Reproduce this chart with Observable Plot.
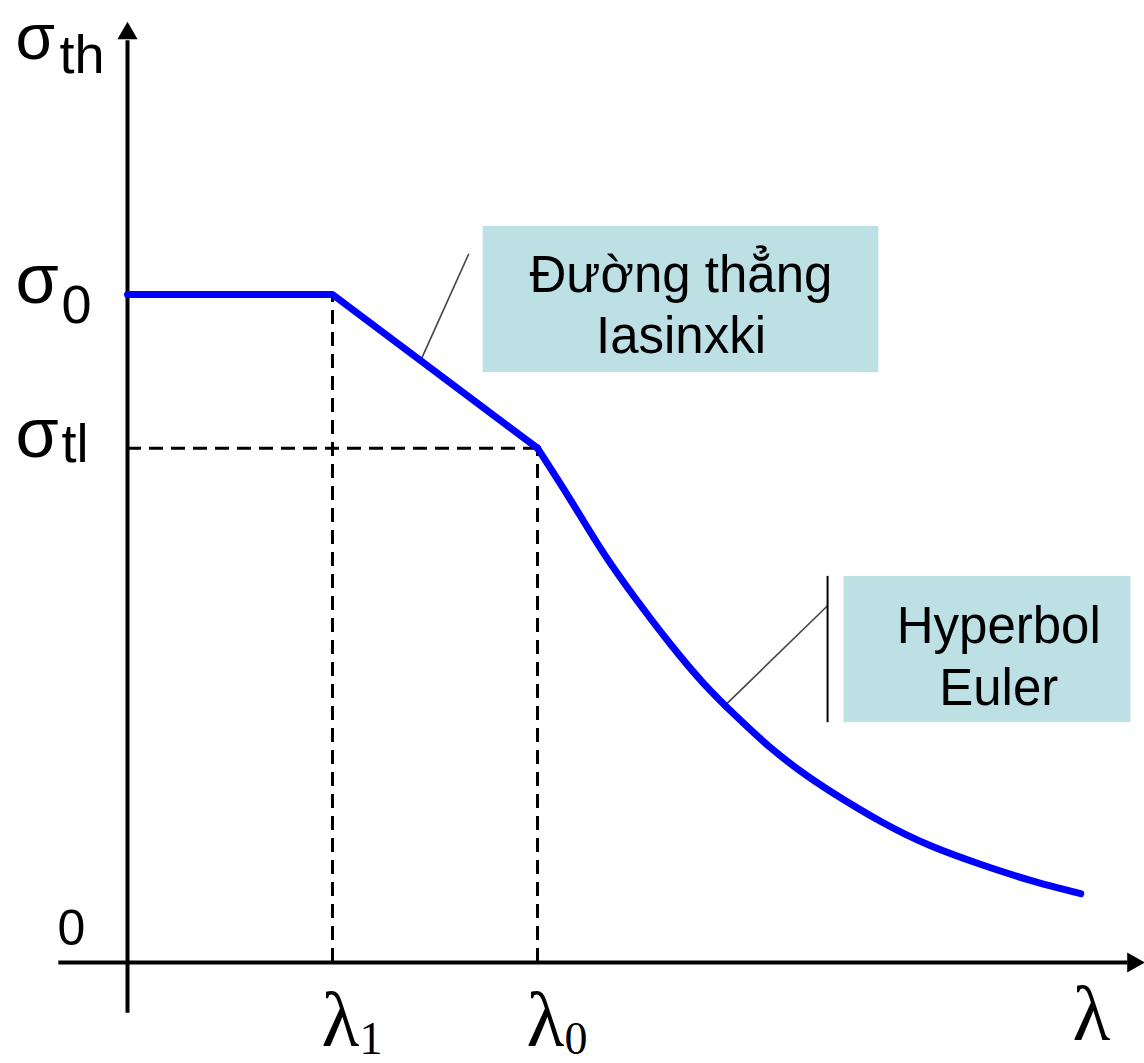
<!DOCTYPE html>
<html>
<head>
<meta charset="utf-8">
<script src="https://cdn.jsdelivr.net/npm/d3@7"></script>
<script src="https://cdn.jsdelivr.net/npm/@observablehq/plot@0.6"></script>
<style>
  html, body { margin: 0; padding: 0; background: #fff; }
  #chart svg { display: block; }
</style>
</head>
<body>
<div id="chart"></div>
<script>
// ---- Data ----
// Blue curve: plateau sigma0 up to lambda1, Iasinxki straight line to lambda0, Euler hyperbola after.
const lambdaStraight = [0, 20, 40];
const sigmaStraight  = [100, 100, 77];
const lambdaEuler = [40.0, 43.2, 46.4, 49.8, 53.0, 56.2, 59.5, 62.7, 65.7, 68.6, 73.5, 78.3, 83.2, 88.1, 93.0];
const sigmaEuler  = [77.0, 69.3, 61.4, 54.0, 47.6, 41.8, 36.7, 32.2, 28.6, 25.6, 21.1, 17.5, 14.7, 12.3, 10.3];

// Characteristic values
const lambda1 = 20, lambda0 = 40;
const sigma0 = 100, sigmaTl = 77;

// Axis extents (data units)
const xAxisExtent = [-6.7, 97.6];
const yAxisExtent = [-7.6, 138];
const xArrowAt = 98.1, yArrowAt = 139.1;

// Tick labels
const yTickLabels = [
  {value: sigma0, main: "σ", sub: "0"},
  {value: sigmaTl, main: "σ", sub: "tl"}
];
const xTickLabels = [
  {value: lambda1, main: "λ", sub: "1"},
  {value: lambda0, main: "λ", sub: "0"}
];
const axisTitleY = {main: "σ", sub: "th"};
const axisTitleX = "λ";
const originLabel = "0";

// Annotation boxes
const boxes = [
  {x1: 34.7, x2: 73.3, y1: 88.3, y2: 110.2, cx: 54.0, lines: ["Đường thẳng", "Iasinxki"], base: [100.3, 91.2]},
  {x1: 69.9, x2: 97.9, y1: 35.9, y2: 57.8, cx: 85.0, lines: ["Hyperbol", "Euler"], base: [47.9, 38.5]}
];
const leaders = [
  {x1: 28.6, y1: 90.1, x2: 33.3, y2: 106.1},
  {x1: 58.3, y1: 38.5, x2: 68.3, y2: 53.4}
];
const bracket = {x: 68.3, y1: 35.9, y2: 57.8};

// ---- Build tables ----
const curve = lambdaStraight.map((l, i) => ({l, s: sigmaStraight[i]}));
const euler = lambdaEuler.map((l, i) => ({l, s: sigmaEuler[i]}));
const boxText = boxes.flatMap(b => b.lines.map((t, i) => ({t, x: b.cx, y: b.base[i]})));

const sans = "Liberation Sans, Arial, sans-serif";
const serif = "Liberation Serif, Times New Roman, serif";
const dash = {stroke: "black", strokeWidth: 3, strokeDasharray: "14,8"};
const label = {textAnchor: "start", lineAnchor: "bottom", fill: "black"};

const chart = Plot.plot({
  width: 1144,
  height: 1063,
  margin: 0,
  axis: null,
  x: {domain: [-12.39, 99.22]},
  y: {domain: [-15.12, 144.01]},
  style: {background: "white", fontFamily: sans},
  marks: [
    // annotation boxes
    Plot.rect(boxes, {x1: "x1", x2: "x2", y1: "y1", y2: "y2", fill: "#bde0e4"}),
    Plot.text(boxText, {x: "x", y: "y", text: "t", fontSize: 51, fontFamily: sans, fill: "black", lineAnchor: "bottom", textAnchor: "middle"}),
    // leader lines
    Plot.link(leaders, {x1: "x1", y1: "y1", x2: "x2", y2: "y2", stroke: "#444", strokeWidth: 1.6}),
    Plot.ruleX([bracket.x], {y1: bracket.y1, y2: bracket.y2, stroke: "black", strokeWidth: 2}),
    // dashed guides
    Plot.ruleX([lambda1], {y1: 0, y2: sigma0, ...dash}),
    Plot.ruleX([lambda0], {y1: 0, y2: sigmaTl, ...dash}),
    Plot.ruleY([sigmaTl], {x1: 0, x2: lambda0, ...dash}),
    // axes
    Plot.ruleY([0], {x1: xAxisExtent[0], x2: xAxisExtent[1], stroke: "black", strokeWidth: 4}),
    Plot.ruleX([0], {y1: yAxisExtent[0], y2: yAxisExtent[1], stroke: "black", strokeWidth: 4}),
    Plot.dot([{x: 0, y: yArrowAt}], {x: "x", y: "y", symbol: "triangle", r: 7.5, fill: "black", stroke: null}),
    Plot.dot([{x: xArrowAt, y: 0}], {x: "x", y: "y", symbol: "triangle", r: 7.5, fill: "black", stroke: null, rotate: 90}),
    // curve
    Plot.line(curve, {x: "l", y: "s", stroke: "#0000ff", strokeWidth: 7, strokeLinejoin: "round"}),
    Plot.line(euler, {x: "l", y: "s", stroke: "#0000ff", strokeWidth: 7, curve: "natural", strokeLinejoin: "round"}),
    // y labels
    Plot.text(yTickLabels, {x: 0, y: "value", text: "main", dx: -112, dy: 9, fontSize: 70, fontFamily: sans, ...label}),
    Plot.text(yTickLabels.filter(d => d.value === sigma0), {x: 0, y: "value", text: "sub", dx: -66, dy: 29, fontSize: 54, fontFamily: sans, ...label}),
    Plot.text(yTickLabels.filter(d => d.value === sigmaTl), {x: 0, y: "value", text: "sub", dx: -66, dy: 14, fontSize: 54, fontFamily: sans, ...label}),
    Plot.text([axisTitleY], {x: 0, y: yAxisExtent[1] + 2.7, text: "main", dx: -112, dy: 36, fontSize: 64, fontFamily: sans, ...label}),
    Plot.text([axisTitleY], {x: 0, y: yAxisExtent[1] + 2.7, text: "sub", dx: -68, dy: 50, fontSize: 54, fontFamily: sans, ...label}),
    Plot.text([originLabel], {x: 0, y: 0, text: d => d, dx: -70, dy: -17, fontSize: 50, fontFamily: sans, ...label}),
    // x labels
    Plot.text(xTickLabels, {x: "value", y: 0, text: "main", dx: -11, dy: 84, fontSize: 78, fontFamily: serif, ...label}),
    Plot.text(xTickLabels, {x: "value", y: 0, text: "sub", dx: 27, dy: 92, fontSize: 46, fontFamily: serif, ...label}),
    Plot.text([axisTitleX], {x: 92.2, y: 0, text: d => d, dy: 78, fontSize: 78, fontFamily: serif, ...label})
  ]
});
document.getElementById("chart").appendChild(chart);
</script>
</body>
</html>
